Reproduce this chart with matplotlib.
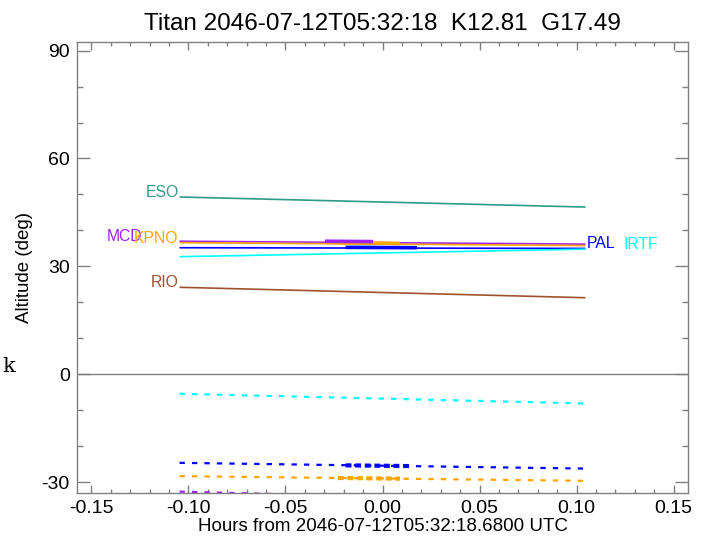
import matplotlib
matplotlib.use("Agg")
import matplotlib.pyplot as plt
from matplotlib.ticker import MultipleLocator

plt.rcParams['font.family'] = ['Liberation Sans', 'DejaVu Sans']

# ---- data ----
t_range = [-0.1046, 0.1046]                    # hours, start/end of each track
stations = ['ESO', 'MCD', 'KPNO', 'PAL', 'IRTF', 'RIO']
colors = ['#2e9a88', '#a020f0', '#ffa500', '#0000ff', '#00ffff', '#a0522d']
alt_start = [49.3, 37.0, 36.6, 35.2, 32.7, 24.2]   # deg
alt_end = [46.5, 36.2, 35.8, 35.0, 34.8, 21.3]     # deg

# highlighted (thick) portions of the solid tracks
thick_st = ['KPNO', 'MCD', 'PAL']
thick_t0 = [-0.0230, -0.0296, -0.0190]
thick_t1 = [0.0090, -0.0049, 0.0177]
thick_a0 = [36.6, 37.0, 35.3]
thick_a1 = [36.4, 36.9, 35.2]

# dashed tracks (second quantity, below horizon)
dash_st = ['IRTF', 'PAL', 'KPNO', 'MCD']
dash_a0 = [-5.4, -24.6, -28.3, -32.6]
dash_a1 = [-8.1, -26.2, -29.6, -35.5]
dthick_st = ['PAL', 'KPNO']
dthick_t0 = [-0.0190, -0.0230]
dthick_t1 = [0.0145, 0.0090]
dthick_a0 = [-25.3, -28.8]
dthick_a1 = [-25.5, -29.0]

# label anchors
left_labels = ['ESO', 'MCD', 'KPNO', 'RIO']
left_lx = [-0.1050, -0.1240, -0.1050, -0.1050]
right_labels = ['PAL', 'IRTF']
right_lx = [0.1050, 0.1240]

title = 'Titan 2046-07-12T05:32:18  K12.81  G17.49'
xlabel = 'Hours from 2046-07-12T05:32:18.6800 UTC'
ylabel = 'Altitude (deg)'

# ---- figure ----
fig = plt.figure(figsize=(7.06, 5.41), dpi=100)
ax = fig.add_axes([0.1086, 0.0893, 0.9750 - 0.1086, 0.9218 - 0.0893])

cmap = dict(zip(stations, colors))
smap = dict(zip(stations, alt_start))
emap = dict(zip(stations, alt_end))

for s, c, a0, a1 in zip(stations, colors, alt_start, alt_end):
    ax.plot(t_range, [a0, a1], color=c, lw=1.2, solid_capstyle='butt')
for s, t0, t1, a0, a1 in zip(thick_st, thick_t0, thick_t1, thick_a0, thick_a1):
    ax.plot([t0, t1], [a0, a1], color=cmap[s], lw=2.6, solid_capstyle='butt')

for s, a0, a1 in zip(dash_st, dash_a0, dash_a1):
    ax.plot(t_range, [a0, a1], color=cmap[s], lw=1.6, linestyle=(0, (2.4, 3.2)))
for s, t0, t1, a0, a1 in zip(dthick_st, dthick_t0, dthick_t1, dthick_a0, dthick_a1):
    ax.plot([t0, t1], [a0, a1], color=cmap[s], lw=3.0, linestyle=(0, (1.4, 0.9)))

for s, x in zip(left_labels, left_lx):
    ax.text(x, smap[s], s, color=cmap[s], fontsize=11.3, ha='right', va='baseline')
for s, x in zip(right_labels, right_lx):
    ax.text(x, emap[s], s, color=cmap[s], fontsize=11.3, ha='left', va='baseline',
            clip_on=False)

ax.axhline(0, color='#808080', lw=1.0)

ax.set_xlim(-0.1576, 0.1576)
ax.set_ylim(-32.9, 92.3)
ax.xaxis.set_major_locator(MultipleLocator(0.05))
ax.xaxis.set_minor_locator(MultipleLocator(0.01))
ax.yaxis.set_major_locator(MultipleLocator(30))
ax.yaxis.set_minor_locator(MultipleLocator(10))
ax.xaxis.set_major_formatter(plt.FuncFormatter(lambda v, p: f'{v:.2f}'))
ax.yaxis.set_major_formatter(plt.FuncFormatter(lambda v, p: f'{v:.0f}'))

for sp in ax.spines.values():
    sp.set_color('#808080')
    sp.set_linewidth(1.0)
ax.tick_params(which='both', direction='in', top=True, right=True, colors='#808080',
               labelcolor='black', labelsize=14, width=1.0)
ax.tick_params(axis='x', which='major', length=5.8, pad=5)
ax.tick_params(axis='x', which='minor', length=3.2)
ax.tick_params(axis='y', which='major', length=9.4, pad=5)
ax.tick_params(axis='y', which='minor', length=4.0)

ax.set_title(title, fontsize=17.5, pad=9)
ax.set_xlabel(xlabel, fontsize=13.5, labelpad=1)
ax.set_ylabel(ylabel, fontsize=13.5, labelpad=6)

fig.text(0.004, 0.312, 'k', fontsize=15, family='DejaVu Serif', va='baseline')

fig.savefig('out.png', dpi=100)
